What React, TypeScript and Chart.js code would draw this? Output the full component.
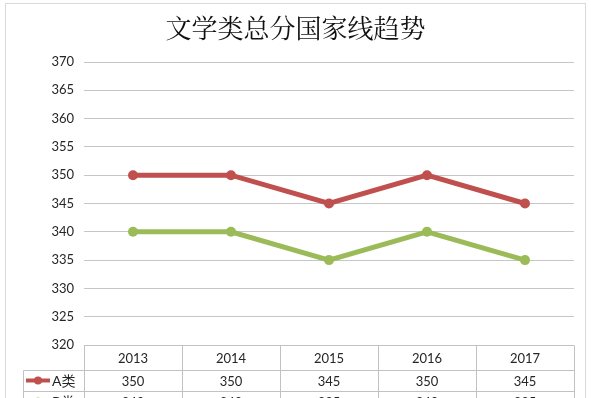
import React, { useEffect, useRef } from "react";
import { Chart, registerables } from "chart.js";

Chart.register(...registerables);

const titleText = "文学类总分国家线趋势";
const categories = ["2013", "2014", "2015", "2016", "2017"];
const seriesNames = ["A类", "B类"];
const seriesA = [350, 350, 345, 350, 345];
const seriesB = [340, 340, 335, 340, 335];
const yMin = 320;
const yMax = 370;
const yStep = 5;

const RED = "#c0504d";
const GREEN = "#9bbb59";
const GRID = "#c6c6c6";
const TABLE = "#c2c2c2";
const TEXT = "#262626";
const FONT = "Lato, 'Noto Sans', sans-serif";

const tablePlugin = {
  id: "dataTable",
  afterDraw(chart: any) {
    const ctx = chart.ctx;
    const xs = chart.scales.x;
    const area = chart.chartArea;
    const n = categories.length;
    const step = n > 1 ? xs.getPixelForValue(1) - xs.getPixelForValue(0) : area.right - area.left;
    const left = xs.getPixelForValue(0) - step / 2;
    const right = xs.getPixelForValue(n - 1) + step / 2;
    const top = area.bottom;
    const hdrBot = top + 25;
    const rowH = 21;
    const legendLeft = 23;
    const series = [
      { name: seriesNames[0], data: seriesA, color: RED },
      { name: seriesNames[1], data: seriesB, color: GREEN },
    ];
    ctx.save();
    ctx.strokeStyle = TABLE;
    ctx.lineWidth = 1;
    ctx.beginPath();
    ctx.rect(left + 0.5, top + 0.5, right - left, hdrBot - top);
    ctx.stroke();
    for (let i = 1; i < n; i++) {
      const bx = Math.round(left + step * i) + 0.5;
      ctx.beginPath();
      ctx.moveTo(bx, top);
      ctx.lineTo(bx, hdrBot + rowH * series.length);
      ctx.stroke();
    }
    series.forEach((s, r) => {
      const y0 = hdrBot + rowH * r;
      ctx.beginPath();
      ctx.rect(legendLeft + 0.5, y0 + 0.5, right - legendLeft, rowH);
      ctx.stroke();
      ctx.beginPath();
      ctx.moveTo(left + 0.5, y0);
      ctx.lineTo(left + 0.5, y0 + rowH);
      ctx.stroke();
    });
    ctx.fillStyle = TEXT;
    ctx.font = `13px ${FONT}`;
    ctx.textAlign = "center";
    ctx.textBaseline = "middle";
    categories.forEach((c, i) => {
      ctx.fillText(c, xs.getPixelForValue(i), (top + hdrBot) / 2 + 1);
    });
    series.forEach((s, r) => {
      const yc = hdrBot + rowH * r + rowH / 2 + 1;
      ctx.fillStyle = TEXT;
      ctx.textAlign = "center";
      ctx.font = `13px ${FONT}`;
      s.data.forEach((v, i) => {
        ctx.fillText(String(v), xs.getPixelForValue(i), yc);
      });
      ctx.strokeStyle = s.color;
      ctx.lineWidth = 4;
      ctx.beginPath();
      ctx.moveTo(legendLeft + 3, yc - 1);
      ctx.lineTo(legendLeft + 27, yc - 1);
      ctx.stroke();
      ctx.fillStyle = s.color;
      ctx.beginPath();
      ctx.arc(legendLeft + 15, yc - 1, 4, 0, Math.PI * 2);
      ctx.fill();
      ctx.fillStyle = TEXT;
      ctx.textAlign = "left";
      ctx.font = `14px ${FONT}, 'Noto Sans CJK SC'`;
      ctx.fillText(s.name, legendLeft + 29, yc);
      ctx.strokeStyle = TABLE;
      ctx.lineWidth = 1;
    });
    ctx.restore();
  },
};

const framePlugin = {
  id: "frame",
  beforeDraw(chart: any) {
    const ctx = chart.ctx;
    ctx.save();
    ctx.fillStyle = "#ffffff";
    ctx.fillRect(0, 0, chart.width, chart.height);
    ctx.strokeStyle = "#d9d9d9";
    ctx.lineWidth = 1;
    ctx.strokeRect(5.5, 3.5, chart.width - 11, chart.height + 10);
    ctx.fillStyle = "#111111";
    ctx.font = `26px 'Noto Serif CJK SC', 'Noto Sans CJK SC', serif`;
    ctx.textAlign = "center";
    ctx.textBaseline = "middle";
    ctx.fillText(titleText, chart.width / 2, 28);
    ctx.restore();
  },
};

export default function App() {
  const ref = useRef<HTMLCanvasElement>(null);
  useEffect(() => {
    document.body.style.margin = "0";
    const chart = new Chart(ref.current as HTMLCanvasElement, {
      type: "line",
      data: {
        labels: categories,
        datasets: [
          {
            label: seriesNames[0],
            data: seriesA,
            borderColor: RED,
            backgroundColor: RED,
            borderWidth: 5,
            pointRadius: 5,
            pointHoverRadius: 5,
            pointBorderWidth: 0,
            tension: 0,
          },
          {
            label: seriesNames[1],
            data: seriesB,
            borderColor: GREEN,
            backgroundColor: GREEN,
            borderWidth: 5,
            pointRadius: 5,
            pointHoverRadius: 5,
            pointBorderWidth: 0,
            tension: 0,
          },
        ],
      },
      options: {
        responsive: false,
        animation: false,
        layout: { padding: { top: 62, right: 17, bottom: 53, left: 0 } },
        plugins: {
          legend: { display: false },
          title: { display: false },
          tooltip: { enabled: false },
        },
        scales: {
          x: {
            type: "category",
            display: false,
            offset: true,
          },
          y: {
            min: yMin,
            max: yMax,
            ticks: {
              stepSize: yStep,
              padding: 10,
              color: TEXT,
              font: { family: FONT, size: 13 },
            },
            grid: { color: GRID, lineWidth: 1, drawTicks: false },
            border: { display: false },
            afterFit(scale: any) {
              scale.width = 84;
            },
          },
        },
      },
      plugins: [framePlugin, tablePlugin],
    });
    return () => chart.destroy();
  }, []);
  return (
    <div style={{ position: "absolute", left: 0, top: 0 }}>
      <canvas ref={ref} width={591} height={398} />
    </div>
  );
}
